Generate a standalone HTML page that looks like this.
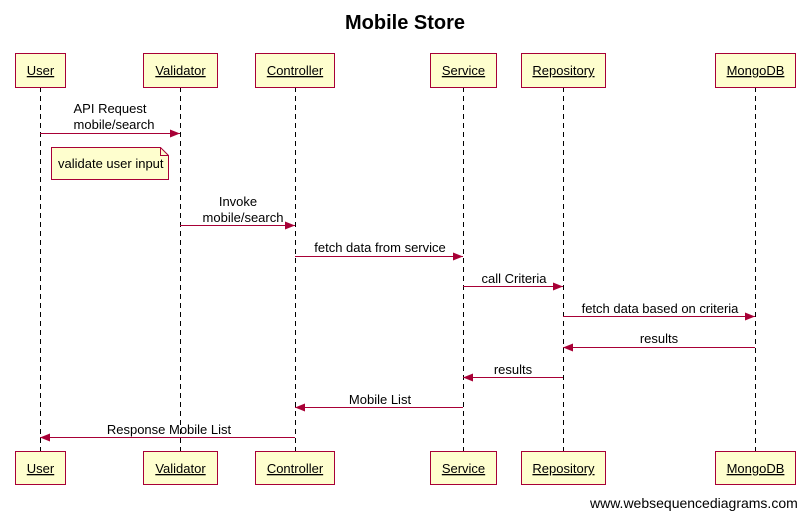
<!DOCTYPE html>
<html><head><meta charset="utf-8"><style>
html,body{margin:0;padding:0;background:#fff;width:810px;height:518px;overflow:hidden}
text{font-family:"Liberation Sans",sans-serif;font-size:13px;fill:#000}
</style></head><body>
<svg width="810" height="518" viewBox="0 0 810 518" xmlns="http://www.w3.org/2000/svg">
<defs>
<marker id="a" markerWidth="10" markerHeight="8" refX="10" refY="4" orient="auto" markerUnits="userSpaceOnUse">
<path d="M0,0 L10,4 L0,8 Z" fill="#a80036"/></marker>
</defs>
<text x="405" y="29" text-anchor="middle" style="font-size:20px;font-weight:bold">Mobile Store</text>
<g stroke="#000" stroke-dasharray="5,4" stroke-width="1">
<line x1="40.5" y1="87" x2="40.5" y2="451"/>
<line x1="180.5" y1="87" x2="180.5" y2="451"/>
<line x1="295.5" y1="87" x2="295.5" y2="451"/>
<line x1="463.5" y1="87" x2="463.5" y2="451"/>
<line x1="563.5" y1="87" x2="563.5" y2="451"/>
<line x1="755.5" y1="87" x2="755.5" y2="451"/>
</g>
<g fill="#fefece" stroke="#a80036" stroke-width="1">
<rect x="15.5" y="53.5" width="50" height="34"/>
<rect x="143.5" y="53.5" width="74" height="34"/>
<rect x="255.5" y="53.5" width="79" height="34"/>
<rect x="430.5" y="53.5" width="66" height="34"/>
<rect x="521.5" y="53.5" width="84" height="34"/>
<rect x="715.5" y="53.5" width="80" height="34"/>
<rect x="15.5" y="451.5" width="50" height="33"/>
<rect x="143.5" y="451.5" width="74" height="33"/>
<rect x="255.5" y="451.5" width="79" height="33"/>
<rect x="430.5" y="451.5" width="66" height="33"/>
<rect x="521.5" y="451.5" width="84" height="33"/>
<rect x="715.5" y="451.5" width="80" height="33"/>
<path d="M51.5,147.5 H160.5 L168.5,155.5 V179.5 H51.5 Z"/>
<path d="M160.5,147.5 V155.5 H168.5" fill="none"/>
</g>
<g text-anchor="middle" text-decoration="underline">
<text x="40.5" y="75">User</text><text x="180.5" y="75">Validator</text><text x="295" y="75">Controller</text>
<text x="463.5" y="75">Service</text><text x="563.5" y="75">Repository</text><text x="755.5" y="75">MongoDB</text>
<text x="40.5" y="473">User</text><text x="180.5" y="473">Validator</text><text x="295" y="473">Controller</text>
<text x="463.5" y="473">Service</text><text x="563.5" y="473">Repository</text><text x="755.5" y="473">MongoDB</text>
</g>
<text x="58" y="168">validate user input</text>
<g stroke="#a80036" stroke-width="1" marker-end="url(#a)">
<line x1="40" y1="133.5" x2="180" y2="133.5"/>
<line x1="180" y1="225.5" x2="295" y2="225.5"/>
<line x1="295" y1="256.5" x2="463" y2="256.5"/>
<line x1="463" y1="286.5" x2="563" y2="286.5"/>
<line x1="563" y1="316.5" x2="755" y2="316.5"/>
<line x1="755" y1="347.5" x2="563" y2="347.5"/>
<line x1="563" y1="377.5" x2="463" y2="377.5"/>
<line x1="463" y1="407.5" x2="295" y2="407.5"/>
<line x1="295" y1="437.5" x2="40" y2="437.5"/>
</g>
<g text-anchor="middle">
<text x="110" y="113">API Request</text><text x="114" y="129">mobile/search</text>
<text x="238" y="206">Invoke</text><text x="243" y="222">mobile/search</text>
<text x="380" y="252">fetch data from service</text>
<text x="514" y="283">call Criteria</text>
<text x="660" y="313">fetch data based on criteria</text>
<text x="659" y="343">results</text>
<text x="513" y="374">results</text>
<text x="380" y="404">Mobile List</text>
<text x="169" y="434">Response Mobile List</text>
</g>
<text x="590" y="508" style="font-size:14px">www.websequencediagrams.com</text>
</svg>
</body></html>
